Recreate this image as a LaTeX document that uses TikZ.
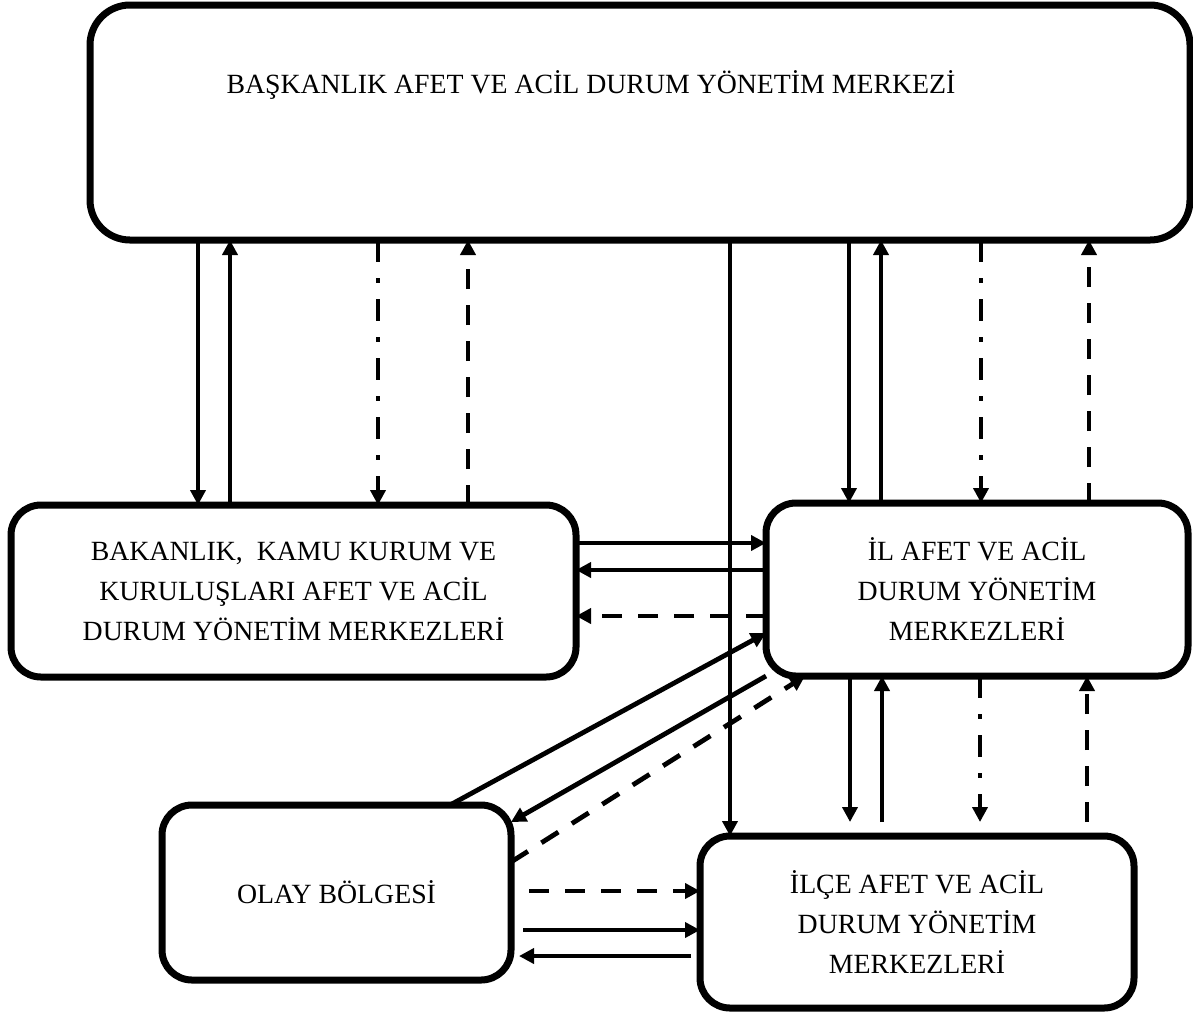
\documentclass[tikz,border=0pt]{standalone}
\usepackage{fontspec}
\setmainfont{Liberation Serif}
\usetikzlibrary{arrows.meta}

\begin{document}
\begin{tikzpicture}[x=0.5pt,y=-0.5pt,
  box/.style={draw,line width=3.5pt,rounded corners=15pt,outer sep=0pt,inner sep=0pt,align=center},
  flow/.style={line width=2.4pt,-{Triangle[length=7.5pt,width=7.5pt]}},
  dashflow/.style={flow,dash pattern=on 10pt off 8pt},
  dotflow/.style={flow,dash pattern=on 11pt off 8pt on 2.5pt off 8pt},
  every node/.style={font=\fontsize{13.9}{20}\selectfont}]
\useasboundingbox (0,0) rectangle (1193,1014);
% boxes
\node (top) [box,rounded corners=20pt,minimum width=550pt,minimum height=117.5pt] at (640,122.5) {};
\node (toptext) at (591,85) {BAŞKANLIK AFET VE ACİL DURUM YÖNETİM MERKEZİ};
\node (bak) [box,minimum width=282.5pt,minimum height=86pt] at (293.5,591)
  {BAKANLIK,\ \ KAMU KURUM VE\\KURULUŞLARI AFET VE ACİL\\DURUM YÖNETİM MERKEZLERİ};
\node (il) [box,minimum width=211pt,minimum height=86.5pt] at (977,589.5)
  {İL AFET VE ACİL\\DURUM YÖNETİM\\MERKEZLERİ};
\node (olay) [box,minimum width=174.5pt,minimum height=87.5pt] at (336.5,892.5) {OLAY BÖLGESİ};
\node (ilce) [box,minimum width=217pt,minimum height=86pt] at (917,922)
  {İLÇE AFET VE ACİL\\DURUM YÖNETİM\\MERKEZLERİ};
% top centre to ministries
\draw [flow] (top.south -| 198,0) -- (bak.north -| 198,0);
\draw [flow] (bak.north -| 230,0) -- (top.south -| 230,0);
\draw [dotflow] (top.south -| 378,0) -- (bak.north -| 378,0);
\draw [dashflow] (bak.north -| 468,0) -- (top.south -| 468,0);
% top centre to province and district
\draw [flow] (top.south -| 730,0) -- (ilce.north -| 730,0);
\draw [flow] (top.south -| 849,0) -- (il.north -| 849,0);
\draw [flow] (il.north -| 881,0) -- (top.south -| 881,0);
\draw [dotflow] (top.south -| 981,0) -- (il.north -| 981,0);
\draw [dashflow] (il.north -| 1089,0) -- (top.south -| 1089,0);
% province to district
\draw [flow,shorten >=7pt] (il.south -| 850,0) -- (ilce.north -| 850,0);
\draw [flow,shorten <=7pt] (ilce.north -| 882,0) -- (il.south -| 882,0);
\draw [dotflow,shorten >=7pt] (il.south -| 980,0) -- (ilce.north -| 980,0);
\draw [dashflow,shorten <=7pt] (ilce.north -| 1087,0) -- (il.south -| 1087,0);
% ministries and province
\draw [flow] (bak.east |- 0,543) -- (il.west |- 0,543);
\draw [flow] (il.west |- 0,570) -- (bak.east |- 0,570);
\draw [dashflow] (il.west |- 0,616) -- (bak.east |- 0,616);
% incident area
\draw [flow] (olay.north -| 450,0) -- (il.west |- 0,633);
\draw [flow] (il.south west) -- (olay.east |- 0,822);
\draw [dashflow] (olay.east |- 0,862) -- (il.south -| 805,0);
\draw [dashflow,shorten <=9pt] (olay.east |- 0,891) -- (ilce.west |- 0,891);
\draw [flow,shorten <=6pt] (olay.east |- 0,930) -- (ilce.west |- 0,930);
\draw [flow,shorten <=4.5pt,shorten >=4pt] (ilce.west |- 0,956) -- (olay.east |- 0,956);
\end{tikzpicture}
\end{document}
